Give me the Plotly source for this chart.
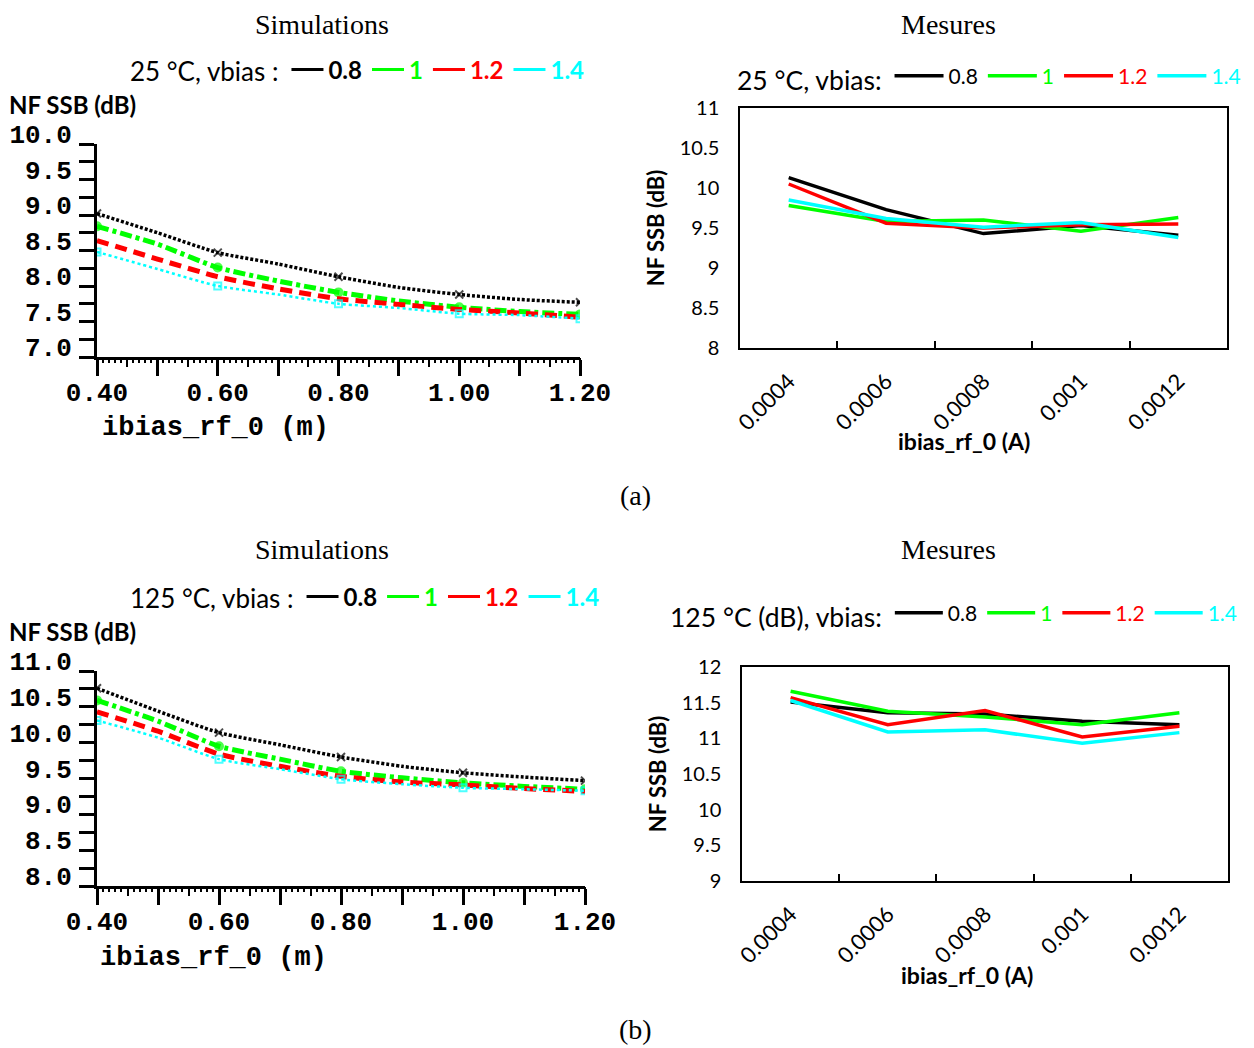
import plotly.graph_objects as go

W, H = 1254, 1048
OX, OY = 8, 8  # the page body adds an 8px margin; compensate so marks land where intended

# ---------------- data ----------------
vbias_labels = ["0.8", "1", "1.2", "1.4"]
colors = ["#000000", "#00ff00", "#ff0000", "#00ffff"]

# Simulations: ibias_rf_0 in mA
sim_x = [0.4, 0.5, 0.6, 0.7, 0.8, 0.9, 1.0, 1.1, 1.2]
sim25_v08 = [9.02, 8.75, 8.47, 8.31, 8.13, 7.98, 7.88, 7.81, 7.77]
sim25_v10 = [8.84, 8.59, 8.26, 8.07, 7.91, 7.79, 7.70, 7.64, 7.60]
sim25_v12 = [8.64, 8.38, 8.13, 7.96, 7.82, 7.74, 7.67, 7.62, 7.56]
sim25_v14 = [8.48, 8.24, 8.00, 7.88, 7.75, 7.69, 7.61, 7.59, 7.54]

sim125_v08 = [10.76, 10.44, 10.14, 9.97, 9.80, 9.67, 9.58, 9.52, 9.47]
sim125_v10 = [10.59, 10.30, 9.95, 9.77, 9.60, 9.51, 9.44, 9.39, 9.35]
sim125_v12 = [10.43, 10.16, 9.84, 9.67, 9.53, 9.45, 9.41, 9.36, 9.32]
sim125_v14 = [10.31, 10.07, 9.77, 9.63, 9.49, 9.42, 9.37, 9.35, 9.33]

# Mesures: ibias_rf_0 in A (category axis)
meas_cats = ["0.0004", "0.0006", "0.0008", "0.001", "0.0012"]
meas25_v08 = [10.13, 9.73, 9.43, 9.53, 9.41]
meas25_v10 = [9.78, 9.58, 9.60, 9.46, 9.63]
meas25_v12 = [10.05, 9.56, 9.50, 9.54, 9.55]
meas25_v14 = [9.85, 9.62, 9.51, 9.57, 9.38]

meas125_v08 = [11.51, 11.36, 11.34, 11.24, 11.19]
meas125_v10 = [11.66, 11.38, 11.30, 11.19, 11.36]
meas125_v12 = [11.57, 11.19, 11.39, 11.02, 11.17]
meas125_v14 = [11.53, 11.09, 11.12, 10.93, 11.08]

sim25 = [sim25_v08, sim25_v10, sim25_v12, sim25_v14]
sim125 = [sim125_v08, sim125_v10, sim125_v12, sim125_v14]
meas25 = [meas25_v08, meas25_v10, meas25_v12, meas25_v14]
meas125 = [meas125_v08, meas125_v10, meas125_v12, meas125_v14]

# ---------------- styles ----------------
MONO = "Liberation Mono"
SANS = "Lato"
SERIF = "Liberation Serif"

sim_styles = [
    dict(width=3.5, dash="3px,2px", symbol="x-thin", msize=8),
    dict(width=5, dash="12px,4px,4px,4px", symbol="circle", msize=8),
    dict(width=5, dash="12px,7px", symbol="circle", msize=0),
    dict(width=2.5, dash="3px,3px", symbol="square-open", msize=7),
]


def fx(px):
    return (px - OX) / W


def fy(py):
    return 1 - (py - OY) / H


def px_x(a, b):
    return [fx(a), fx(b)]


def px_y(top, bottom):
    return [fy(bottom), fy(top)]


fig = go.Figure()


def add_sim(series, xa, ya, legend_name, xa_minor):
    for ys, c, st in zip(series, colors, sim_styles):
        sizes = [st["msize"] if i % 2 == 0 else 0 for i in range(len(sim_x))]
        fig.add_trace(go.Scatter(
            x=sim_x, y=ys, xaxis=xa, yaxis=ya, mode="lines+markers",
            line=dict(color=c, width=st["width"], dash=st["dash"], shape="spline", smoothing=0.6),
            marker=dict(symbol=st["symbol"], size=sizes, color=c,
                        line=dict(color=c, width=2)),
            showlegend=False, hoverinfo="x+y"))
    # empty trace so the overlaid fine-tick axis is drawn
    fig.add_trace(go.Scatter(x=[None], y=[None], xaxis=xa_minor, yaxis=ya,
                             mode="lines", showlegend=False, hoverinfo="skip"))
    # legend entries (solid swatches, bold coloured labels)
    for lab, c in zip(vbias_labels, colors):
        fig.add_trace(go.Scatter(
            x=[None], y=[None], xaxis=xa, yaxis=ya, mode="lines",
            line=dict(color=c, width=3),
            name=f"<span style='color:{c}'><b>{lab}</b></span>",
            legend=legend_name, showlegend=True))


def add_meas(series, xa, ya, legend_name):
    for ys, c, lab in zip(series, colors, vbias_labels):
        fig.add_trace(go.Scatter(
            x=meas_cats, y=ys, xaxis=xa, yaxis=ya, mode="lines",
            line=dict(color=c, width=3.5),
            name=f"<span style='color:{c}'>{lab}</span>",
            legend=legend_name, showlegend=True))


add_sim(sim25, "x", "y", "legend", "x5")
add_meas(meas25, "x2", "y2", "legend2")
add_sim(sim125, "x3", "y3", "legend3", "x6")
add_meas(meas125, "x4", "y4", "legend4")

# ---------------- axes ----------------
def sim_xaxis(dom, anchor):
    return dict(
        domain=dom, anchor=anchor, range=[0.4, 1.2], showline=True, linewidth=3,
        linecolor="black", ticks="outside", ticklen=16, tickwidth=3, tickcolor="black",
        tick0=0.4, dtick=0.2, tickformat=".2f", showgrid=False, zeroline=False,
        automargin=False, ticklabelstandoff=-6,
        tickfont=dict(family=MONO, size=26, color="black", weight="bold"),
        minor=dict(dtick=0.1, tick0=0.4, ticks="outside", ticklen=16, tickwidth=3,
                   tickcolor="black", showgrid=False))


def sim_xaxis_minor(over, anchor):
    return dict(
        overlaying=over, anchor=anchor, range=[0.4, 1.2], showline=False,
        ticks="outside", ticklen=9, tickwidth=2, tickcolor="black", tick0=0.4,
        dtick=0.05, showticklabels=False, showgrid=False, zeroline=False,
        automargin=False,
        minor=dict(dtick=0.01, tick0=0.4, ticks="outside", ticklen=5, tickwidth=2,
                   tickcolor="black", showgrid=False))


def sim_yaxis(dom, anchor, rng):
    return dict(
        domain=dom, anchor=anchor, range=rng, showline=True, linewidth=3,
        linecolor="black", ticks="outside", ticklen=15, tickwidth=3, tickcolor="black",
        tick0=rng[0], dtick=0.5, tickformat=".1f", showgrid=False, zeroline=False,
        ticklabelshift=-10, ticklabelstandoff=2, automargin=False,
        tickfont=dict(family=MONO, size=26, color="black", weight="bold"),
        minor=dict(dtick=0.25, ticks="outside", ticklen=15, tickwidth=3,
                   tickcolor="black", showgrid=False))


def meas_xaxis(dom, anchor):
    return dict(
        domain=dom, anchor=anchor, type="category", range=[-0.5, 4.5],
        showline=True, mirror=True, linewidth=1.5, linecolor="black",
        ticks="inside", tickson="boundaries", ticklen=7, tickwidth=1.5, tickcolor="black",
        tickangle=-45, showgrid=False, zeroline=False, automargin=False,
        ticklabelstandoff=10,
        tickfont=dict(family=SANS, size=22, color="black"))


def meas_yaxis(dom, anchor, rng):
    return dict(
        domain=dom, anchor=anchor, range=rng, dtick=0.5, tick0=rng[0],
        showline=True, mirror=True, linewidth=1.5, linecolor="black",
        ticks="", showgrid=False, zeroline=False, ticklabelstandoff=15, automargin=False,
        tickfont=dict(family=SANS, size=20, color="black"),
        title=dict(text="<b>NF SSB (dB)</b>", font=dict(family=SANS, size=22, color="black"),
                   standoff=9))


def legend_cfg(xpx, ypx, title, title_size, item_size, itemwidth):
    return dict(
        x=fx(xpx), y=fy(ypx), xanchor="left", yanchor="middle",
        orientation="h", bgcolor="rgba(0,0,0,0)", borderwidth=0,
        title=dict(text=title, side="left", font=dict(family=SANS, size=title_size, color="black")),
        font=dict(family=SANS, size=item_size, color="black"),
        itemwidth=itemwidth, itemclick=False, itemdoubleclick=False)


annotations = []


def ann(text, xpx, ypx, family, size, xanchor="center"):
    annotations.append(dict(
        text=text, x=fx(xpx), y=fy(ypx), xref="paper", yref="paper",
        xanchor=xanchor, yanchor="middle", showarrow=False,
        font=dict(family=family, size=size, color="black")))


ann("Simulations", 322, 25, SERIF, 28)
ann("Mesures", 948, 25, SERIF, 28)
ann("Simulations", 322, 549, SERIF, 28)
ann("Mesures", 948, 549, SERIF, 28)
ann("(a)", 635, 495, SERIF, 28)
ann("(b)", 635, 1029, SERIF, 28)
ann("<b>NF SSB (dB)</b>", 7, 104, SANS, 24, xanchor="left")
ann("<b>NF SSB (dB)</b>", 7, 631, SANS, 24, xanchor="left")
ann("<b>ibias_rf_0 (m)</b>", 100, 428, MONO, 27, xanchor="left")
ann("<b>ibias_rf_0 (m)</b>", 98, 958, MONO, 27, xanchor="left")
ann("<b>ibias_rf_0 (A)</b>", 964, 441, SANS, 23)
ann("<b>ibias_rf_0 (A)</b>", 967, 975, SANS, 23)

fig.update_layout(
    width=W, height=H, margin=dict(l=0, r=0, t=0, b=0, pad=0, autoexpand=False),
    paper_bgcolor="white", plot_bgcolor="white",
    font=dict(family=SANS, color="black"),
    xaxis=sim_xaxis(px_x(97, 580), "y"),
    yaxis=sim_yaxis(px_y(144, 357), "x", [7, 10]),
    xaxis2=meas_xaxis(px_x(740, 1227), "y2"),
    yaxis2=meas_yaxis(px_y(108, 348), "x2", [8, 11]),
    xaxis3=sim_xaxis(px_x(97, 585), "y3"),
    yaxis3=sim_yaxis(px_y(671, 886), "x3", [8, 11]),
    xaxis4=meas_xaxis(px_x(742, 1228), "y4"),
    yaxis4=meas_yaxis(px_y(667, 881), "x4", [9, 12]),
    xaxis5=sim_xaxis_minor("x", "y"),
    xaxis6=sim_xaxis_minor("x3", "y3"),
    legend=legend_cfg(128, 70, "25 °C, vbias :", 26, 24, 32),
    legend2=legend_cfg(735, 78, "25 °C, vbias:", 26.5, 21, 49),
    legend3=legend_cfg(128, 597, "125 °C, vbias :", 26, 24, 32),
    legend4=legend_cfg(668, 615, "125 °C (dB), vbias:", 26.5, 21, 48),
    annotations=annotations,
)

fig.write_html("out.html")
